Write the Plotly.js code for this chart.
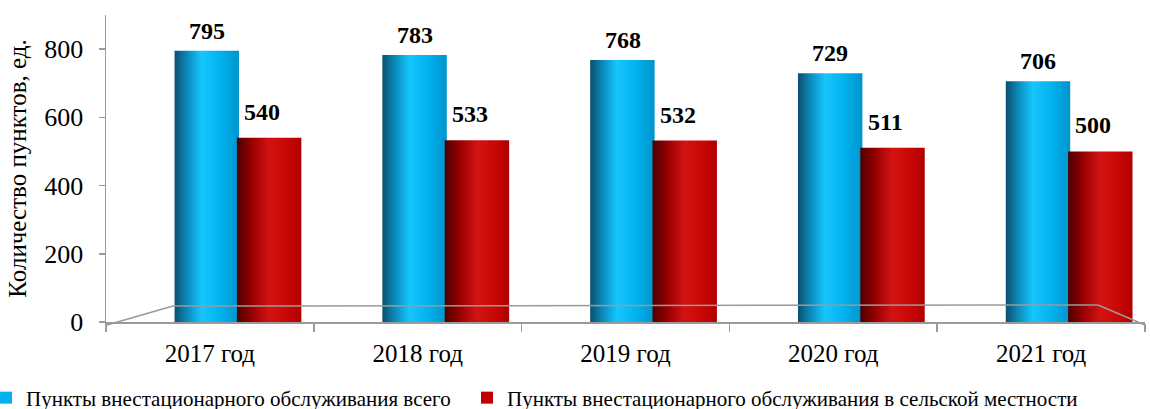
<!DOCTYPE html>
<html>
<head>
<meta charset="utf-8">
<script src="https://cdn.plot.ly/plotly-3.0.1.min.js"></script>
<style>
html,body{margin:0;padding:0;background:#fff;}
#chart{width:1150px;height:409px;}
#chart text{font-family:'Liberation Serif', serif !important;}
</style>
</head>
<body>
<div id="chart"></div>
<script>
const categories = ['2017 год', '2018 год', '2019 год', '2020 год', '2021 год'];
const totalValues = [795, 783, 768, 729, 706];
const ruralValues = [540, 533, 532, 511, 500];
const seriesNames = ['Пункты внестационарного обслуживания всего', 'Пункты внестационарного обслуживания в сельской местности'];
const yTicks = [0, 200, 400, 600, 800];

const FONT = 'Liberation Serif';
const L = 106, R = 1145, T = 15, B = 322;
const px2x = p => (p - L) / (R - L);
const px2y = p => (B - p) / (B - T);

const traces = [
  {type: 'bar', name: seriesNames[0], x: categories, y: totalValues, offset: -0.17, width: 0.31,
   marker: {color: '#00B0F0', line: {width: 0}}, hoverinfo: 'x+y'},
  {type: 'bar', name: seriesNames[1], x: categories, y: ruralValues, offset: 0.13, width: 0.31,
   marker: {color: '#C00000', line: {width: 0}}, hoverinfo: 'x+y'}
];

const annotations = [];
categories.forEach((c, i) => {
  annotations.push({x: c, y: totalValues[i], text: '<b>' + totalValues[i] + '</b>', showarrow: false,
    xshift: -3, yshift: 20, yanchor: 'middle', font: {family: FONT, size: 24, color: '#000'}});
  annotations.push({x: c, y: ruralValues[i], text: '<b>' + ruralValues[i] + '</b>', showarrow: false,
    xshift: 52, yshift: 26, yanchor: 'middle', font: {family: FONT, size: 24, color: '#000'}});
});

const lineStyle = {color: '#9a9a9a', width: 1.5};
const shapes = [
  {type: 'line', xref: 'paper', yref: 'paper', x0: px2x(107), y0: px2y(325), x1: px2x(173), y1: px2y(306), line: lineStyle},
  {type: 'line', xref: 'paper', yref: 'paper', x0: px2x(173), y0: px2y(306), x1: px2x(1098), y1: px2y(305), line: lineStyle},
  {type: 'line', xref: 'paper', yref: 'paper', x0: px2x(1098), y0: px2y(305), x1: px2x(1145), y1: px2y(325), line: lineStyle}
];

const layout = {
  width: 1150, height: 409,
  margin: {l: L, r: 1150 - R, t: T, b: 409 - B, pad: 0, autoexpand: false},
  paper_bgcolor: '#fff', plot_bgcolor: '#fff',
  font: {family: FONT, color: '#000'},
  barmode: 'overlay',
  showlegend: true,
  legend: {orientation: 'h', x: px2x(-14), xanchor: 'left', y: px2y(398), yanchor: 'middle',
    font: {family: FONT, size: 21, color: '#000'}, entrywidth: 436, entrywidthmode: 'pixels',
    itemwidth: 30, bgcolor: 'rgba(0,0,0,0)', tracegroupgap: 0},
  xaxis: {type: 'category', range: [-0.5, 4.5], showline: true, linecolor: '#9a9a9a', linewidth: 1.5,
    ticks: 'outside', tickson: 'boundaries', ticklen: 8, tickcolor: '#9a9a9a', tickwidth: 1.5, ticklabelstandoff: 8,
    tickfont: {family: FONT, size: 25, color: '#000'}, showgrid: false, zeroline: false, fixedrange: true, automargin: false},
  yaxis: {range: [0, 900], tickvals: yTicks, ticktext: yTicks.map(String), showline: true, linecolor: '#9a9a9a', linewidth: 1.5,
    ticks: 'outside', ticklen: 6, tickcolor: '#9a9a9a', tickwidth: 1.5, ticklabelstandoff: 10,
    tickfont: {family: FONT, size: 26, color: '#000'}, showgrid: false, zeroline: false, automargin: false,
    title: {text: 'Количество пунктов, ед.', font: {family: FONT, size: 25, color: '#000'}, standoff: 10}, fixedrange: true},
  annotations: annotations,
  shapes: shapes
};

Plotly.newPlot('chart', traces, layout, {displayModeBar: false, staticPlot: true}).then(gd => {
  const svg = gd.querySelector('svg.main-svg');
  const ns = 'http://www.w3.org/2000/svg';
  let defs = svg.querySelector('defs');
  if (!defs) { defs = document.createElementNS(ns, 'defs'); svg.insertBefore(defs, svg.firstChild); }
  function grad(id, stops) {
    const g = document.createElementNS(ns, 'linearGradient');
    g.setAttribute('id', id); g.setAttribute('x1', '0'); g.setAttribute('y1', '0'); g.setAttribute('x2', '1'); g.setAttribute('y2', '0');
    stops.forEach(s => { const st = document.createElementNS(ns, 'stop'); st.setAttribute('offset', s[0]); st.setAttribute('stop-color', s[1]); g.appendChild(st); });
    defs.appendChild(g);
  }
  grad('gBlue', [['0', '#0b4f6e'], ['0.18', '#0b86b5'], ['0.42', '#16c6ff'], ['0.7', '#03b3ef'], ['1', '#0094cc']]);
  grad('gRed', [['0', '#4e0000'], ['0.22', '#940000'], ['0.5', '#d41212'], ['0.8', '#c70606'], ['1', '#b00000']]);
  const ids = ['gBlue', 'gRed'];
  gd.querySelectorAll('.barlayer .trace').forEach((tr, i) => {
    tr.querySelectorAll('path').forEach(p => { p.style.fill = 'url(#' + ids[i] + ')'; });
  });
  gd.querySelectorAll('.legend [clip-path]').forEach(e => e.removeAttribute('clip-path'));
});
</script>
</body>
</html>
